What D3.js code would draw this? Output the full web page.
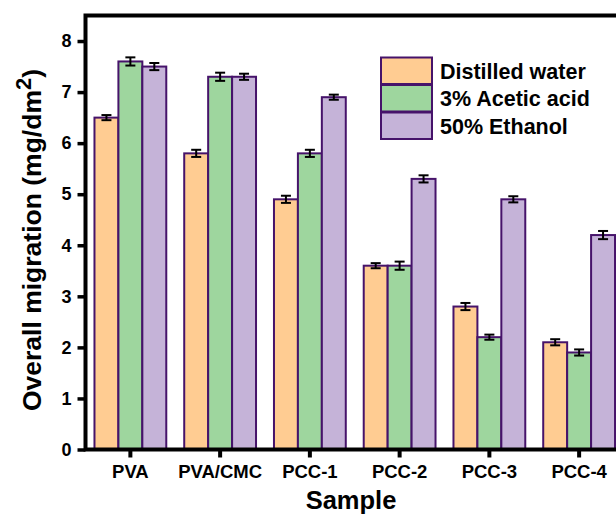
<!DOCTYPE html>
<html>
<head>
<meta charset="utf-8">
<script src="https://cdn.jsdelivr.net/npm/d3@7"></script>
<style>
  body { margin: 0; background: #fff; }
  svg { display: block; font-family: "Liberation Sans", Arial, sans-serif; font-weight: bold; }
</style>
</head>
<body>
<svg width="616" height="514"></svg>
<script>
const SAMPLES = ["PVA", "PVA/CMC", "PCC-1", "PCC-2", "PCC-3", "PCC-4"]
const SERIES = ["Distilled water", "3% Acetic acid", "50% Ethanol"]
const WATER = [6.5, 5.8, 4.9, 3.6, 2.8, 2.1]
const ACETIC = [7.6, 7.3, 5.8, 3.6, 2.2, 1.9]
const ETHANOL = [7.5, 7.3, 6.9, 5.3, 4.9, 4.2]
const WATER_ERR = [0.05, 0.07, 0.07, 0.05, 0.07, 0.06]
const ACETIC_ERR = [0.08, 0.08, 0.07, 0.08, 0.05, 0.06]
const ETHANOL_ERR = [0.07, 0.06, 0.05, 0.07, 0.06, 0.08]
const Y_TICKS = [0, 1, 2, 3, 4, 5, 6, 7, 8]

const COLORS = ["#FFCC92", "#9ED69E", "#C5B3D8"]
const EDGE = "#46136A"

const values = [WATER, ACETIC, ETHANOL]
const errors = [WATER_ERR, ACETIC_ERR, ETHANOL_ERR]

// flat table for bars
const rows = []
SAMPLES.forEach((s, i) => {
  SERIES.forEach((ser, j) => {
    rows.push({sample: s, series: ser, value: values[j][i], err: errors[j][i], k: j})
  })
})

const mLeft = 85.5, mRight = 624, mTop = 15.5, mBottom = 449.5

const svg = d3.select("svg")

const x = d3.scaleBand().domain(SAMPLES).range([mLeft, mRight])
  .paddingInner(0.2).paddingOuter(0.1)
const xs = d3.scaleBand().domain(SERIES).range([0, x.bandwidth()])
const y = d3.scaleLinear().domain([0, 8.5]).range([mBottom, mTop])

// bars
const bars = svg.append("g")
bars.selectAll("rect")
  .data(rows)
  .enter()
  .append("rect")
  .attr("x", d => x(d.sample) + xs(d.series))
  .attr("width", xs.bandwidth())
  .attr("y", d => y(d.value))
  .attr("height", d => y(0) - y(d.value))
  .attr("fill", d => COLORS[d.k])
  .attr("stroke", EDGE)
  .attr("stroke-width", 2)

// error bars
const eb = svg.append("g").attr("stroke", "#000").attr("stroke-width", 2)
rows.forEach(d => {
  const cx = x(d.sample) + xs(d.series) + xs.bandwidth() / 2
  const y1 = y(d.value + d.err), y2 = y(d.value - d.err)
  eb.append("line").attr("x1", cx).attr("x2", cx).attr("y1", y1).attr("y2", y2)
  eb.append("line").attr("x1", cx - 5).attr("x2", cx + 5).attr("y1", y1).attr("y2", y1)
  eb.append("line").attr("x1", cx - 5).attr("x2", cx + 5).attr("y1", y2).attr("y2", y2)
})

// axes
const yAxis = svg.append("g")
  .attr("transform", `translate(${mLeft},0)`)
  .call(d3.axisLeft(y).tickValues(Y_TICKS).tickSize(8).tickPadding(6).tickFormat(d3.format("d")))
yAxis.select(".domain").remove()
yAxis.selectAll(".tick line").attr("stroke", "#000").attr("stroke-width", 3.5)
yAxis.selectAll(".tick text").attr("font-size", 18).attr("font-weight", "bold")
  .attr("font-family", "Liberation Sans, Arial, sans-serif").attr("fill", "#000")

const xAxis = svg.append("g")
  .attr("transform", `translate(0,${mBottom})`)
  .call(d3.axisBottom(x).tickSize(8).tickPadding(7))
xAxis.select(".domain").remove()
xAxis.selectAll(".tick line").attr("stroke", "#000").attr("stroke-width", 4)
xAxis.selectAll(".tick text").attr("font-size", 18.5).attr("font-weight", "bold")
  .attr("font-family", "Liberation Sans, Arial, sans-serif").attr("fill", "#000")

// frame
svg.append("rect")
  .attr("x", mLeft).attr("y", mTop)
  .attr("width", mRight - mLeft).attr("height", mBottom - mTop)
  .attr("fill", "none").attr("stroke", "#000").attr("stroke-width", 4)

// axis titles
svg.append("text")
  .attr("x", 351)
  .attr("y", 509)
  .attr("text-anchor", "middle")
  .attr("font-size", 25.5)
  .text("Sample")

const yt = svg.append("text")
  .attr("transform", "translate(41,240) rotate(-90)")
  .attr("text-anchor", "middle")
  .attr("font-size", 26.5)
yt.append("tspan").text("Overall migration (mg/dm")
yt.append("tspan").attr("font-size", 22).attr("dy", -10).text("2")
yt.append("tspan").attr("dy", 10).text(")")

// legend
const lg = svg.append("g").attr("transform", "translate(381,57.5)")
const items = lg.selectAll("g").data(SERIES).enter().append("g")
  .attr("transform", (d, i) => `translate(0,${i * 27.5})`)
items.append("rect")
  .attr("width", 51).attr("height", 26.5)
  .attr("fill", (d, i) => COLORS[i])
  .attr("stroke", EDGE).attr("stroke-width", 2)
items.append("text")
  .attr("x", 59).attr("y", 21)
  .attr("font-size", 21.5)
  .text(d => d)
</script>
</body>
</html>
